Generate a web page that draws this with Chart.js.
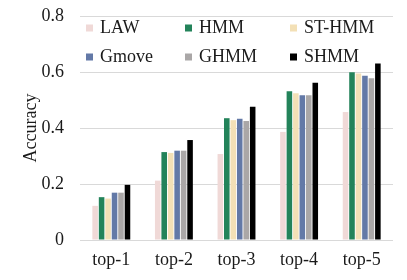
<!DOCTYPE html>
<html>
<head>
<meta charset="utf-8">
<script src="https://cdn.jsdelivr.net/npm/chart.js@4"></script>
<style>
  html, body { margin: 0; padding: 0; background: #fff; }
  #wrap { width: 407px; height: 280px; position: relative; }
</style>
</head>
<body>
<div id="wrap"><canvas id="chart-acc"></canvas></div>
<script>
// ── data ─────────────────────────────────
const categories = ['top-1', 'top-2', 'top-3', 'top-4', 'top-5'];
const yTicks     = [0, 0.2, 0.4, 0.6, 0.8];

const law   = [0.122, 0.212, 0.307, 0.386, 0.457];
const hmm   = [0.153, 0.314, 0.435, 0.531, 0.599];
const sthmm = [0.148, 0.311, 0.428, 0.524, 0.595];
const gmove = [0.169, 0.319, 0.433, 0.517, 0.587];
const ghmm  = [0.169, 0.319, 0.425, 0.517, 0.578];
const shmm  = [0.197, 0.357, 0.476, 0.562, 0.630];

const seriesNames = ['LAW', 'HMM', 'ST-HMM', 'Gmove', 'GHMM', 'SHMM'];
const seriesData  = [law, hmm, sthmm, gmove, ghmm, shmm];
const colors      = ['#f0d9d7', '#23835a', '#f3e0b6', '#6379a7', '#aaa7a7', '#000000'];

const FONT = 'Liberation Serif';
const TXT  = '#1a1a1a';

// ── legend drawn inside the plot area, 2 rows x 3 cols ─
const insideLegend = {
  id: 'insideLegend',
  afterDraw(chart) {
    const ctx = chart.ctx;
    const cols = [86, 185, 290];
    const rows = [28, 57];
    ctx.save();
    ctx.font = '18px ' + FONT;
    ctx.textBaseline = 'middle';
    ctx.textAlign = 'left';
    seriesNames.forEach((name, i) => {
      const x = cols[i % 3], y = rows[Math.floor(i / 3)];
      ctx.fillStyle = colors[i];
      ctx.fillRect(x, y - 3.5, 7, 7);
      ctx.fillStyle = TXT;
      ctx.fillText(name, x + 14, y);
    });
    ctx.restore();
  }
};

new Chart(document.getElementById('chart-acc'), {
  type: 'bar',
  data: {
    labels: categories,
    datasets: seriesData.map((d, i) => ({
      label: seriesNames[i],
      data: d,
      backgroundColor: colors[i],
      borderWidth: 0,
      barPercentage: 0.86,
      categoryPercentage: 0.62,
    })),
  },
  options: {
    responsive: true,
    maintainAspectRatio: false,
    animation: false,
    layout: { padding: { left: 20, right: 14, top: 0, bottom: 0 } },
    plugins: { legend: { display: false }, tooltip: { enabled: false } },
    scales: {
      x: {
        grid: { display: false },
        border: { display: false },
        ticks: { font: { family: FONT, size: 18 }, color: TXT, padding: 1 },
        afterFit(s) { s.height = 40; },
      },
      y: {
        min: 0, max: 0.8,
        afterBuildTicks(s) { s.ticks = yTicks.map(v => ({ value: v })); },
        grid: { color: '#d9d9d9', lineWidth: 1, drawTicks: false },
        border: { display: false },
        ticks: {
          font: { family: FONT, size: 18 }, color: TXT, padding: 16,
          callback: v => v === 0 ? '0' : v.toFixed(1),
        },
        title: { display: true, text: 'Accuracy', font: { family: FONT, size: 18 }, color: TXT, padding: 0 },
        afterFit(s) { s.width = 60; s.paddingTop = 16; s.paddingBottom = 0; },
      },
    },
  },
  plugins: [insideLegend],
});
</script>
</body>
</html>
